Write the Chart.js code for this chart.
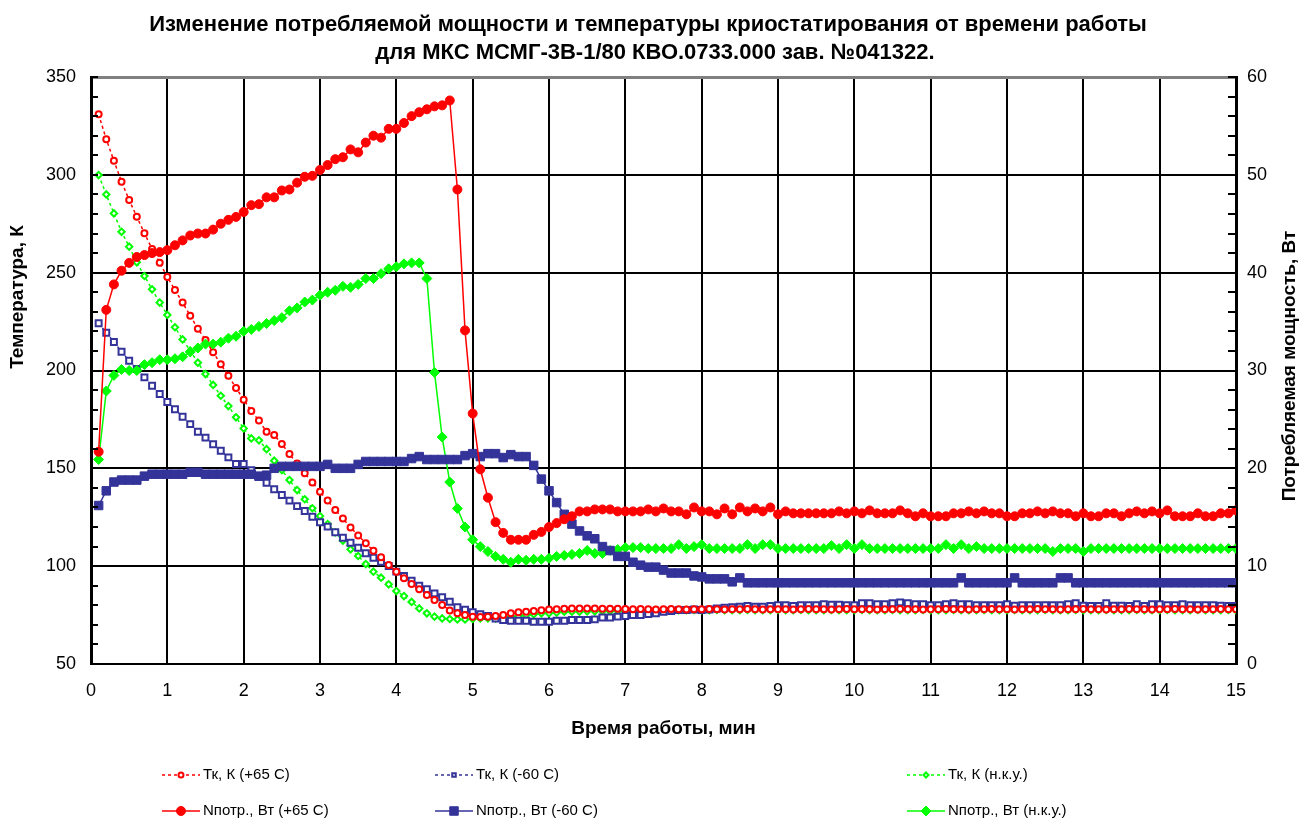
<!DOCTYPE html>
<html>
<head>
<meta charset="utf-8">
<script src="https://cdn.jsdelivr.net/npm/chart.js@4.4.0/dist/chart.umd.min.js"></script>
<style>
  html, body { margin: 0; padding: 0; background: #fff; }
</style>
</head>
<body>
<canvas id="myChart" width="1304" height="825"></canvas>
<script>
// время работы, мин
const times = [
  0.1,0.2,0.3,0.4,0.5,0.6,0.7,0.8,0.9,1.0,
  1.1,1.2,1.3,1.4,1.5,1.6,1.7,1.8,1.9,2.0,
  2.1,2.2,2.3,2.4,2.5,2.6,2.7,2.8,2.9,3.0,
  3.1,3.2,3.3,3.4,3.5,3.6,3.7,3.8,3.9,4.0,
  4.1,4.2,4.3,4.4,4.5,4.6,4.7,4.8,4.9,5.0,
  5.1,5.2,5.3,5.4,5.5,5.6,5.7,5.8,5.9,6.0,
  6.1,6.2,6.3,6.4,6.5,6.6,6.7,6.8,6.9,7.0,
  7.1,7.2,7.3,7.4,7.5,7.6,7.7,7.8,7.9,8.0,
  8.1,8.2,8.3,8.4,8.5,8.6,8.7,8.8,8.9,9.0,
  9.1,9.2,9.3,9.4,9.5,9.6,9.7,9.8,9.9,10.0,
  10.1,10.2,10.3,10.4,10.5,10.6,10.7,10.8,10.9,11.0,
  11.1,11.2,11.3,11.4,11.5,11.6,11.7,11.8,11.9,12.0,
  12.1,12.2,12.3,12.4,12.5,12.6,12.7,12.8,12.9,13.0,
  13.1,13.2,13.3,13.4,13.5,13.6,13.7,13.8,13.9,14.0,
  14.1,14.2,14.3,14.4,14.5,14.6,14.7,14.8,14.9,15.0
];

// Тк, К (+65 С)
const tkHot = [
  330.9,318.2,307.2,296.5,287.1,278.6,270.1,262.1,255.1,247.8,
  241.1,234.7,228.0,221.4,215.6,209.3,203.2,197.3,191.1,185.1,
  179.3,174.4,168.7,167.0,162.5,157.3,152.5,147.5,142.8,138.0,
  133.5,128.7,124.3,119.8,115.7,111.7,107.9,104.5,100.6,97.2,
  93.8,90.9,88.2,85.3,82.7,80.2,77.4,75.9,75.0,74.2,
  74.0,74.2,74.5,75.0,75.9,76.4,76.7,77.1,77.5,77.9,
  78.0,78.2,78.4,78.4,78.4,78.4,78.3,78.2,78.2,78.1,
  78.0,78.1,78.0,77.9,78.0,78.1,78.0,77.9,78.0,78.0,
  78.1,78.0,77.9,78.0,78.0,78.1,78.0,77.9,78.0,78.0,
  78.0,77.9,78.0,78.1,78.0,78.0,77.9,78.0,78.1,78.0,
  78.0,78.0,77.9,78.0,78.0,78.1,78.0,78.0,77.9,78.0,
  78.0,78.1,78.0,78.0,77.9,78.0,78.0,78.1,78.0,78.0,
  77.9,78.0,78.0,78.1,78.0,78.0,77.9,78.0,78.0,78.1,
  78.0,78.0,77.9,78.0,78.0,78.1,78.0,78.0,77.9,78.0,
  78.0,78.1,78.0,78.0,77.9,78.0,78.0,78.1,78.0,78.0
];

// Тк, К (-60 С)
const tkCold = [
  224.1,219.3,214.6,209.6,205.0,200.8,196.5,192.2,188.0,183.9,
  180.2,176.4,172.6,168.7,165.7,162.3,159.0,155.6,152.2,152.2,
  149.0,145.8,142.6,139.3,136.4,133.5,130.7,128.2,125.3,122.4,
  120.2,117.3,114.5,112.0,109.4,106.6,104.3,102.3,100.1,97.2,
  95.0,92.6,90.0,88.2,86.1,84.1,81.8,79.0,77.8,76.4,
  75.5,74.5,73.3,72.5,72.1,72.1,72.1,71.6,71.6,71.6,
  72.1,72.1,72.5,72.5,72.5,72.8,73.8,73.8,74.2,74.5,
  75.0,75.0,75.6,75.9,76.7,77.1,77.6,77.6,77.9,77.6,
  77.9,78.4,78.8,79.0,79.3,79.6,79.3,79.3,79.6,80.0,
  80.0,79.6,80.0,80.0,80.0,80.6,80.3,80.3,80.0,80.0,
  81.0,81.0,80.6,80.6,81.0,81.5,81.0,80.6,80.6,80.1,
  80.1,80.6,81.0,80.5,80.6,80.1,80.1,80.1,80.1,80.6,
  79.8,80.1,80.1,80.1,80.1,80.1,80.1,80.5,81.0,79.8,
  79.6,79.6,81.0,79.8,79.8,79.6,80.6,79.6,80.5,80.6,
  80.1,80.1,80.5,80.1,80.1,80.1,80.1,79.8,79.6,79.6
];

// Тк, К (н.к.у.)
const tkNku = [
  299.9,290.0,280.3,270.9,263.3,255.3,248.3,241.5,234.7,228.4,
  222.1,215.9,210.1,204.0,198.2,192.6,187.1,181.8,176.1,170.4,
  165.3,164.3,159.8,153.9,149.1,144.0,138.9,134.2,129.6,125.6,
  121.5,117.3,113.0,108.6,105.2,101.1,97.2,94.1,90.7,87.3,
  84.7,81.7,78.4,75.9,74.2,73.3,73.0,72.8,72.8,73.0,
  73.3,73.3,73.3,73.5,74.2,74.5,75.0,75.4,75.9,75.9,
  76.2,76.7,76.7,76.7,76.9,76.9,77.0,77.0,77.1,77.1,
  77.3,77.4,77.5,77.5,77.5,77.6,77.5,77.5,77.6,77.5,
  77.5,77.6,77.5,77.5,77.5,77.6,77.5,77.5,77.5,77.6,
  77.5,77.5,77.6,77.5,77.5,77.5,77.6,77.5,77.5,77.5,
  77.6,77.5,77.5,77.5,77.6,77.5,77.5,77.5,77.6,77.5,
  77.5,77.5,77.6,77.5,77.5,77.5,77.6,77.5,77.5,77.5,
  77.6,77.5,77.5,77.5,77.6,77.5,77.5,77.5,77.6,77.5,
  77.5,77.5,77.6,77.5,77.5,77.5,77.6,77.5,77.5,77.5,
  77.6,77.5,77.5,77.5,77.6,77.5,77.5,77.5,77.6,77.5
];

// Nпотр., Вт (+65 С)
const nHot = [
  21.7,36.2,38.8,40.2,41.0,41.6,41.8,42.0,42.1,42.3,
  42.8,43.3,43.8,44.0,44.0,44.4,45.0,45.4,45.7,46.2,
  46.9,47.0,47.7,47.7,48.4,48.5,49.2,49.8,49.9,50.5,
  51.0,51.6,51.8,52.6,52.3,53.3,54.0,53.8,54.7,54.7,
  55.3,56.0,56.4,56.7,57.0,57.1,57.6,48.5,34.1,25.6,
  19.9,17.0,14.5,13.4,12.7,12.7,12.7,13.2,13.5,14.0,
  14.4,14.8,15.1,15.6,15.6,15.8,15.8,15.8,15.6,15.6,
  15.6,15.6,15.8,15.6,15.9,15.6,15.6,15.3,16.0,15.6,
  15.6,15.3,15.9,15.3,16.0,15.6,15.9,15.6,16.0,15.3,
  15.6,15.4,15.4,15.4,15.4,15.4,15.4,15.6,15.4,15.6,
  15.4,15.7,15.4,15.4,15.4,15.7,15.4,15.1,15.4,15.1,
  15.1,15.1,15.4,15.4,15.6,15.4,15.6,15.4,15.4,15.1,
  15.1,15.4,15.4,15.6,15.4,15.6,15.4,15.4,15.1,15.4,
  15.1,15.1,15.4,15.4,15.1,15.4,15.6,15.4,15.6,15.4,
  15.7,15.1,15.1,15.1,15.4,15.1,15.1,15.4,15.4,15.7
];

// Nпотр., Вт (-60 С)
const nCold = [
  16.2,17.7,18.6,18.8,18.8,18.8,19.2,19.4,19.4,19.4,
  19.4,19.4,19.6,19.6,19.4,19.4,19.4,19.4,19.4,19.4,
  19.4,19.2,19.3,20.0,20.2,20.2,20.2,20.2,20.2,20.2,
  20.4,20.0,20.0,20.0,20.4,20.7,20.7,20.7,20.7,20.7,
  20.7,21.0,21.2,20.9,20.9,20.9,20.9,20.9,21.3,21.5,
  21.2,21.5,21.5,21.1,21.4,21.2,21.2,20.3,18.9,17.7,
  16.5,15.3,14.3,13.6,13.1,12.8,12.0,11.6,11.0,11.0,
  10.4,10.1,9.9,9.9,9.6,9.3,9.3,9.3,9.0,8.9,
  8.7,8.7,8.7,8.4,8.8,8.3,8.3,8.3,8.3,8.3,
  8.3,8.3,8.3,8.3,8.3,8.3,8.3,8.3,8.3,8.3,
  8.3,8.3,8.3,8.3,8.3,8.3,8.3,8.3,8.3,8.3,
  8.3,8.3,8.3,8.8,8.3,8.3,8.3,8.3,8.3,8.3,
  8.8,8.3,8.3,8.3,8.3,8.3,8.8,8.8,8.3,8.3,
  8.3,8.3,8.3,8.3,8.3,8.3,8.3,8.3,8.3,8.3,
  8.3,8.3,8.3,8.3,8.3,8.3,8.3,8.3,8.3,8.3
];

// Nпотр., Вт (н.к.у.)
const nNku = [
  20.9,27.9,29.5,30.1,30.0,30.0,30.6,30.8,31.1,31.1,
  31.2,31.4,31.9,32.3,32.7,32.7,32.9,33.3,33.5,34.0,
  34.2,34.5,34.8,35.1,35.4,36.1,36.4,37.0,37.2,37.7,
  38.0,38.2,38.6,38.5,38.8,39.4,39.4,39.9,40.4,40.6,
  40.9,41.0,41.0,39.4,29.8,23.2,18.6,15.9,14.0,12.7,
  12.0,11.5,11.0,10.7,10.4,10.7,10.6,10.7,10.7,10.8,
  11.0,11.1,11.2,11.3,11.6,11.3,11.3,11.6,11.7,11.9,
  11.9,11.9,11.8,11.8,11.8,11.8,12.2,11.8,12.0,12.2,
  11.8,11.8,11.8,11.8,11.8,12.2,11.8,12.2,12.2,11.8,
  11.8,11.8,11.8,11.8,11.8,11.8,12.1,11.8,12.2,11.8,
  12.2,11.8,11.8,11.8,11.8,11.8,11.8,11.8,11.8,11.8,
  11.8,12.2,11.8,12.2,11.8,12.0,11.8,11.8,11.8,11.8,
  11.8,11.8,11.8,11.8,11.8,11.5,11.8,11.8,11.8,11.5,
  11.8,11.8,11.8,11.8,11.8,11.8,11.8,11.8,11.8,11.8,
  11.8,11.8,11.8,11.8,11.8,11.8,11.8,11.8,11.8,11.8
];

const RED = '#FF0000', NAVY = '#333399', GREEN = '#00FF00';
const FONT = "'Liberation Sans', Arial, sans-serif";

const xy = (arr) => arr.map((v, i) => ({ x: times[i], y: v }));

const tempLine = (label, data, color, style, radius) => ({
  label, data: xy(data), yAxisID: 'y', order: 2,
  borderColor: color, borderWidth: 1.5, borderDash: [3, 3],
  pointStyle: style, pointRadius: radius, pointBorderWidth: 2,
  pointBorderColor: color, pointBackgroundColor: '#fff',
  legendDash: true
});
const powerLine = (label, data, color, style, radius) => ({
  label, data: xy(data), yAxisID: 'y1', order: 1,
  borderColor: color, borderWidth: 1.5,
  pointStyle: style, pointRadius: radius, pointBorderWidth: 1,
  pointBorderColor: color, pointBackgroundColor: color,
  legendDash: false
});

// подписи, легенда и мелкие засечки
const decor = {
  id: 'decor',
  afterDraw(chart) {
    const { ctx, chartArea: a, scales } = chart;
    ctx.save();

    // засечки внутри области
    ctx.strokeStyle = '#000';
    ctx.lineWidth = 2;
    ctx.beginPath();
    for (let v = 50; v <= 350; v += 10) {
      const y = Math.round(scales.y.getPixelForValue(v));
      ctx.moveTo(a.left - 1, y); ctx.lineTo(a.left + 7, y);
    }
    for (let v = 0; v <= 60; v += 2) {
      const y = Math.round(scales.y1.getPixelForValue(v));
      ctx.moveTo(a.right - 8, y); ctx.lineTo(a.right + 1, y);
    }
    ctx.stroke();

    ctx.fillStyle = '#000';
    ctx.textAlign = 'center';
    ctx.textBaseline = 'middle';

    // заголовок
    ctx.font = 'bold 22px ' + FONT;
    ctx.fillText('Изменение потребляемой мощности и температуры криостатирования от времени работы', 648, 25);
    ctx.fillText('для МКС МСМГ-3В-1/80 КВО.0733.000 зав. №041322.', 655, 53);

    // подписи осей
    ctx.font = 'bold 19px ' + FONT;
    ctx.fillText('Время работы, мин', (a.left + a.right) / 2, 729);
    ctx.save();
    ctx.translate(18, 297);
    ctx.rotate(-Math.PI / 2);
    ctx.fillText('Температура, К', 0, 0);
    ctx.restore();
    ctx.save();
    ctx.translate(1290, 366);
    ctx.rotate(-Math.PI / 2);
    ctx.fillText('Потребляемая мощность, Вт', 0, 0);
    ctx.restore();

    // легенда
    const cols = [162, 435, 907];
    const rows = [775, 811];
    ctx.font = '15px ' + FONT;
    ctx.textAlign = 'left';
    chart.data.datasets.forEach((ds, i) => {
      const x0 = cols[i % 3], y0 = rows[Math.floor(i / 3)];
      ctx.save();
      ctx.strokeStyle = ds.borderColor;
      ctx.lineWidth = ds.borderWidth;
      ctx.setLineDash(ds.legendDash ? ds.borderDash : []);
      ctx.beginPath();
      ctx.moveTo(x0, y0); ctx.lineTo(x0 + 38, y0);
      ctx.stroke();
      ctx.setLineDash([]);
      ctx.fillStyle = ds.pointBackgroundColor;
      ctx.strokeStyle = ds.pointBorderColor;
      ctx.lineWidth = ds.pointBorderWidth;
      Chart.helpers.drawPoint(ctx, {
        pointStyle: ds.pointStyle, radius: ds.legendDash ? 2.5 : ds.pointRadius,
        borderWidth: ds.pointBorderWidth, rotation: 0
      }, x0 + 19, y0);
      ctx.restore();
      ctx.fillStyle = '#000';
      ctx.fillText(ds.label, x0 + 41, y0);
    });
    ctx.restore();
  }
};

const ctx = document.getElementById('myChart').getContext('2d');
new Chart(ctx, {
  type: 'line',
  data: {
    datasets: [
      tempLine('Тк, К (+65 С)', tkHot, RED, 'circle', 3),
      tempLine('Тк, К (-60 С)', tkCold, NAVY, 'rect', 4.2),
      tempLine('Тк, К (н.к.у.)', tkNku, GREEN, 'rectRot', 3.2),
      powerLine('Nпотр., Вт (+65 С)', nHot, RED, 'circle', 4.5),
      powerLine('Nпотр., Вт (-60 С)', nCold, NAVY, 'rect', 6),
      powerLine('Nпотр., Вт (н.к.у.)', nNku, GREEN, 'rectRot', 5)
    ]
  },
  options: {
    responsive: false,
    animation: false,
    devicePixelRatio: 1,
    layout: { padding: { top: 77, left: 0, right: 0, bottom: 0 } },
    elements: { line: { tension: 0 } },
    plugins: { legend: { display: false }, title: { display: false }, tooltip: { enabled: false } },
    scales: {
      x: {
        type: 'linear', min: 0, max: 15,
        ticks: { stepSize: 1, color: '#000', padding: 16, font: { size: 18, family: FONT } },
        grid: { color: '#000', lineWidth: 2, drawTicks: false },
        border: { color: '#000', width: 2 },
        afterFit(s) { s.height = 161; }
      },
      y: {
        position: 'left', min: 50, max: 350,
        ticks: { stepSize: 50, color: '#000', padding: 15, font: { size: 18, family: FONT } },
        grid: {
          drawTicks: false,
          color: (c) => c.tick && c.tick.value === 350 ? '#808080' : '#000',
          lineWidth: (c) => c.tick && c.tick.value === 350 ? 3 : 2
        },
        border: { color: '#000', width: 3 },
        afterFit(s) { s.width = 91; }
      },
      y1: {
        position: 'right', min: 0, max: 60,
        ticks: { stepSize: 10, color: '#000', padding: 11, font: { size: 18, family: FONT } },
        grid: { drawOnChartArea: false, drawTicks: false },
        border: { color: '#000', width: 3 },
        afterFit(s) { s.width = 68; }
      }
    }
  },
  plugins: [decor]
});
</script>
</body>
</html>
